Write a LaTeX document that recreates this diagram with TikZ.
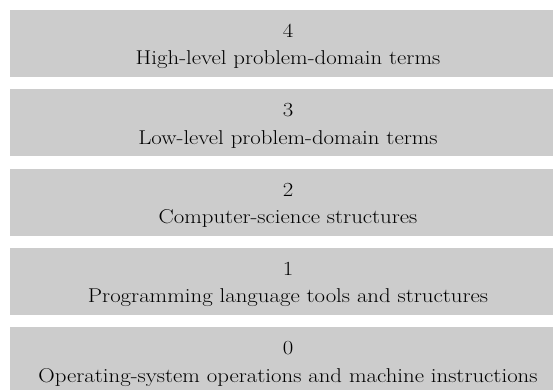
\documentclass[tikz,border=0pt]{standalone}
\usepackage{fontspec}
\definecolor{boxgrey}{HTML}{CCCCCC}
\tikzset{
  layerbox/.style={fill=boxgrey, draw=none, minimum width=556pt, minimum height=67pt, inner sep=0pt, anchor=north west},
  layertext/.style={anchor=base, inner sep=0pt, font=\fontsize{20}{24}\selectfont, text=black, xscale=1.14, transform shape}
}
\begin{document}
\begin{tikzpicture}[x=1pt,y=1pt]
\useasboundingbox (0,0) rectangle (553,-390);
\begin{scope}
\clip (0,0) rectangle (553,-390);
\node[layerbox] (b4) at (10,-10) {};
\node[layerbox] (b3) at (10,-89.25) {};
\node[layerbox] (b2) at (10,-168.5) {};
\node[layerbox] (b1) at (10,-247.75) {};
\node[layerbox] (b0) at (10,-327) {};
\end{scope}
\node[layertext] (n4) at (288,-37.5) {4};
\node[layertext] (t4) at (288,-65) {High-level problem-domain terms};
\node[layertext] (n3) at (288,-116.75) {3};
\node[layertext] (t3) at (288,-144.25) {Low-level problem-domain terms};
\node[layertext] (n2) at (288,-196) {2};
\node[layertext] (t2) at (288,-223.5) {Computer-science structures};
\node[layertext] (n1) at (288,-275.25) {1};
\node[layertext] (t1) at (288,-302.75) {Programming language tools and structures};
\node[layertext] (n0) at (288,-354.5) {0};
\node[layertext] (t0) at (288,-382) {Operating-system operations and machine instructions};
\end{tikzpicture}
\end{document}
